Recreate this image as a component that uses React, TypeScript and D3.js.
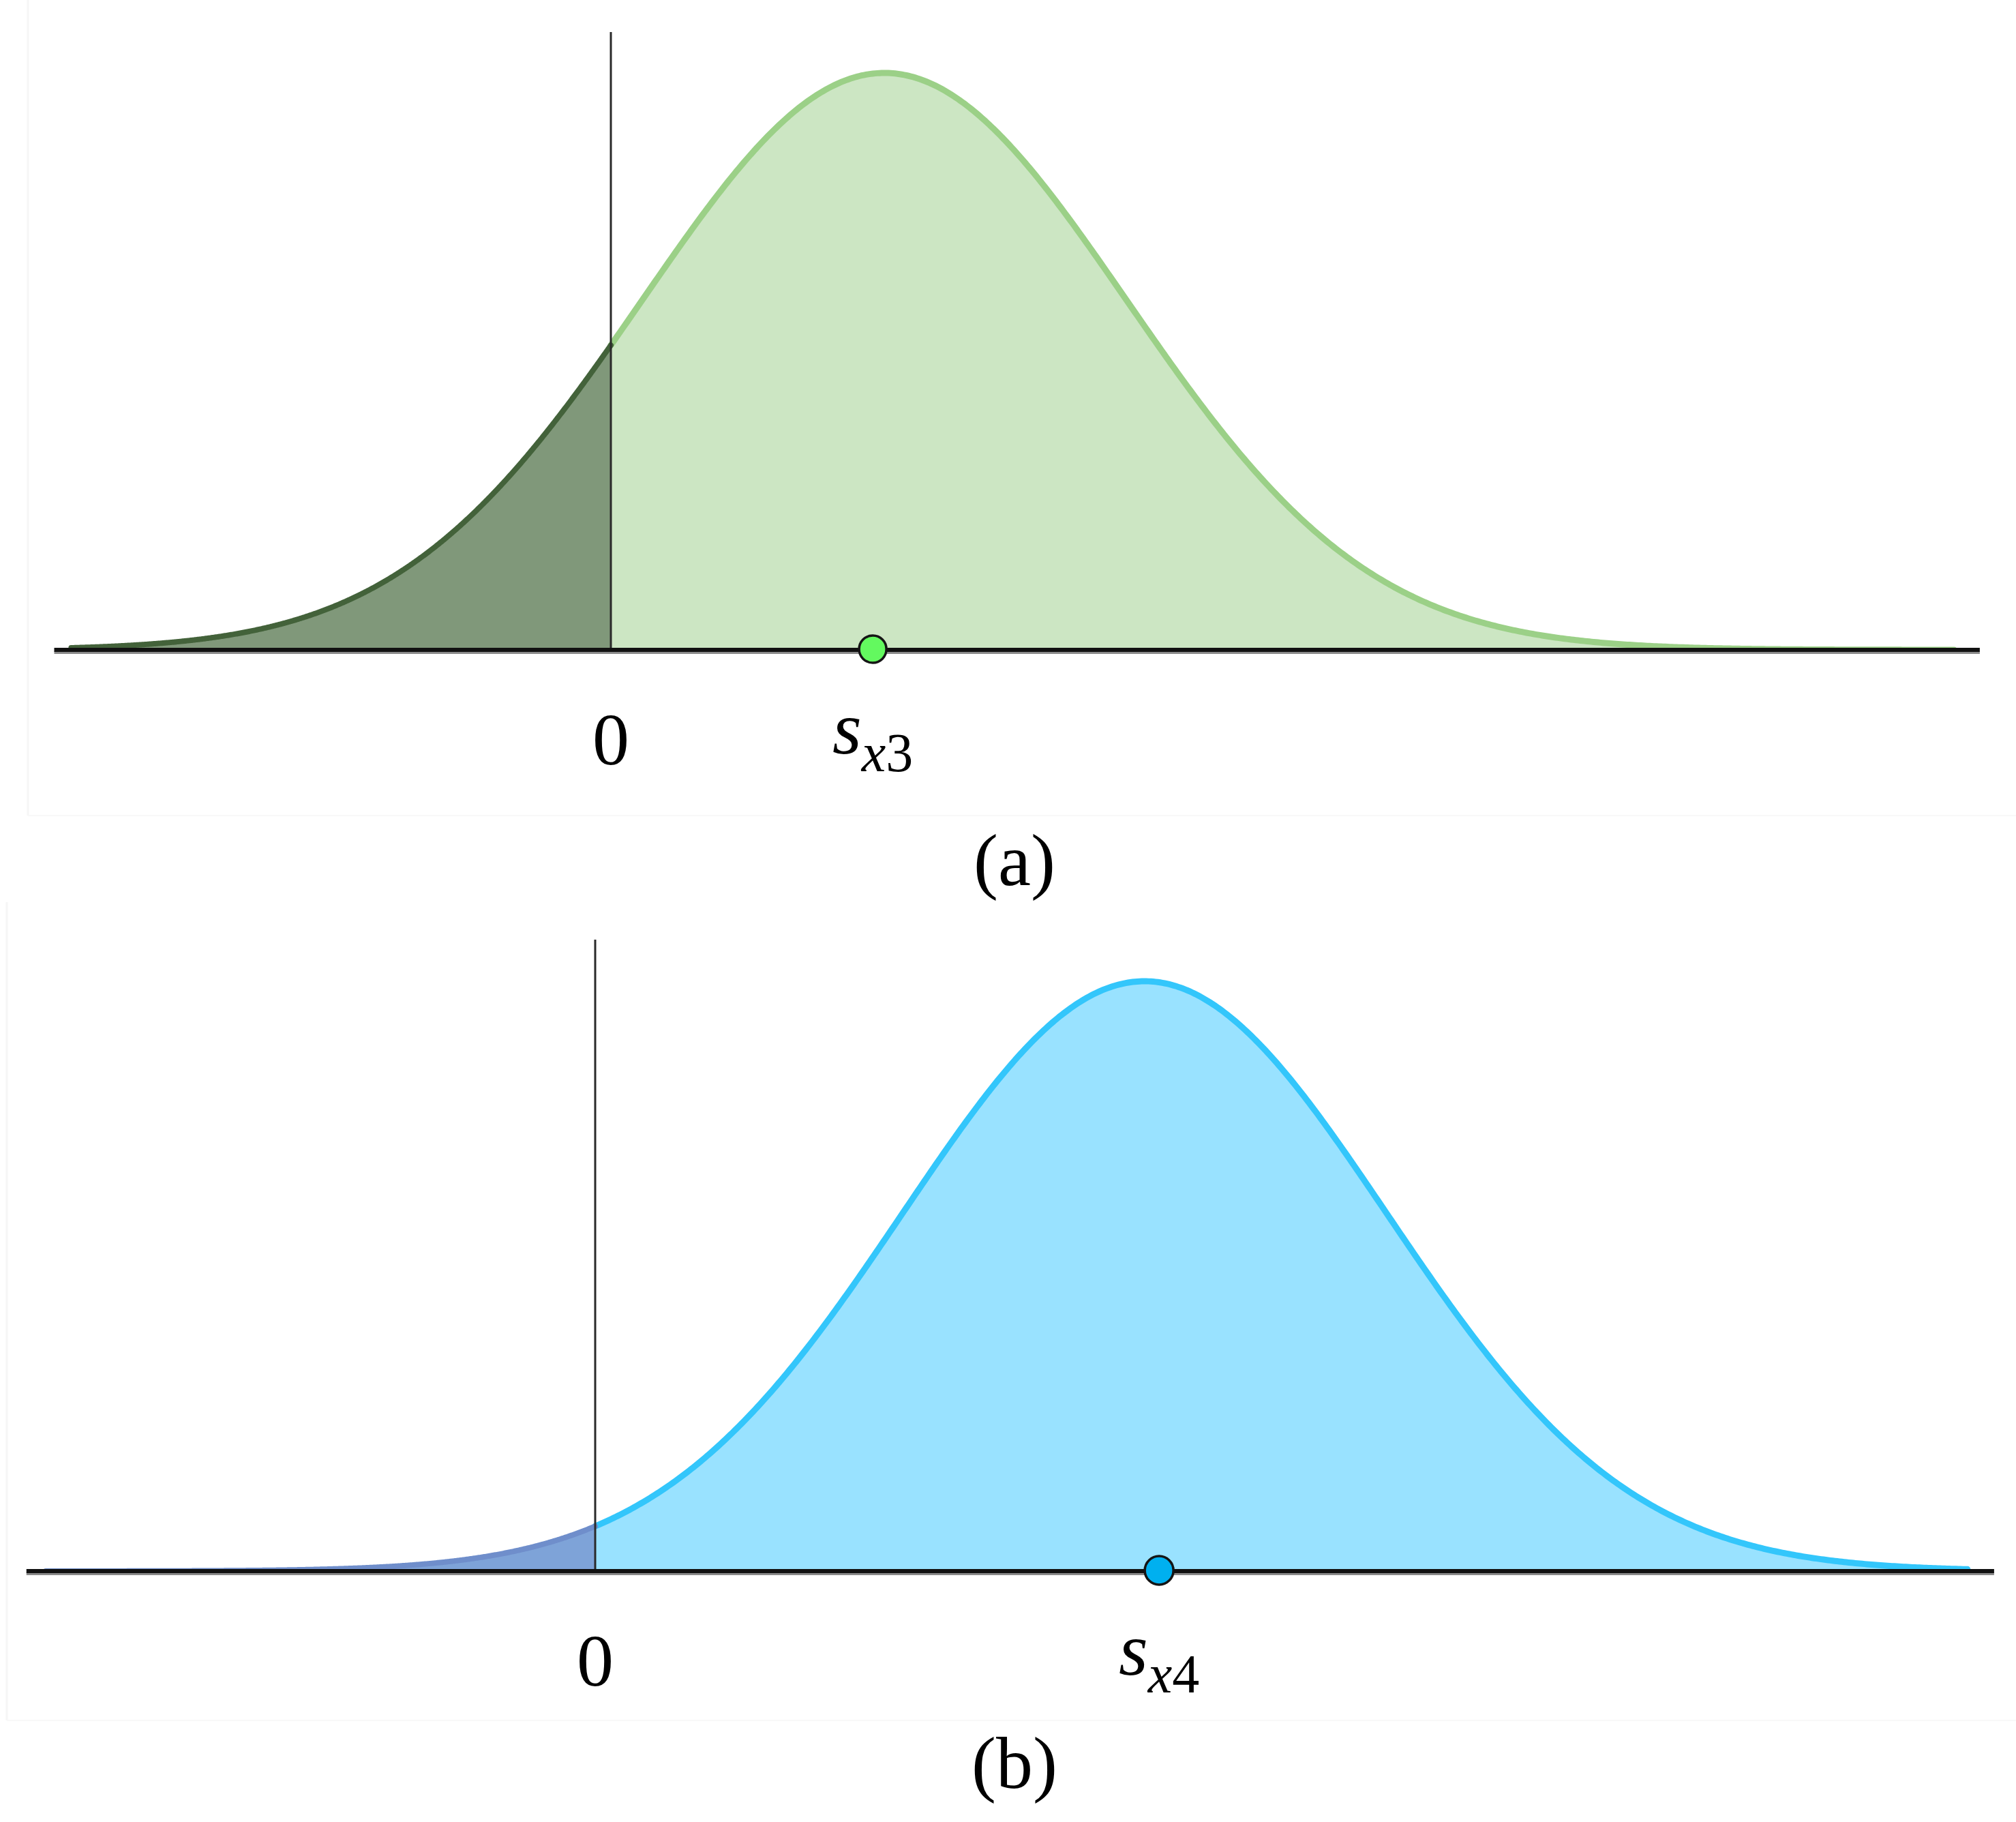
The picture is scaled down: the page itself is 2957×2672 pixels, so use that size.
import React from "react";
import * as d3 from "d3";

// ---- data (units of one standard deviation) ----
const panelIds = ["a", "b"];
const panelCaptions = ["(a)", "(b)"];
const means = [1.13, 2.27];
const sigmas = [1, 1];
const thresholds = [0, 0];
const curveStart = [-2.23, -2.27];
const curveEnd = [5.55, 5.67];
const axisStart = [-2.3, -2.35];
const axisEnd = [5.656, 5.78];
const pointValues = [1.082, 2.33];
const pointSub = ["x3", "x4"];
const zeroLabels = ["0", "0"];

// ---- layout / style (not data) ----
const W = 2957;
const H = 2672;
const layout = [
  { x0: 896, unit: 355, base: 953, peak: 107, vTop: 47, capY: 1298, dotR: 20 },
  { x0: 873, unit: 355, base: 2304, peak: 1439, vTop: 1378, capY: 2622, dotR: 21 },
];
const styles = [
  { fillR: "#cce6c3", strokeR: "#9bd087", fillL: "#80987a", strokeL: "#43623a", dot: "#63f95f" },
  { fillR: "#99e2ff", strokeR: "#33c6fb", fillL: "#7ea3d8", strokeL: "#6f8ecb", dot: "#00b0ef" },
];
const SERIF = '"Liberation Serif", "Times New Roman", Times, serif';

function gauss(x: number, m: number, s: number) {
  const z = (x - m) / s;
  return Math.exp(-0.5 * z * z);
}

function Panel({ i }: { i: number }) {
  const L = layout[i];
  const S = styles[i];
  const xs = d3
    .scaleLinear()
    .domain([0, 1])
    .range([L.x0, L.x0 + L.unit]);
  const ys = d3.scaleLinear().domain([0, 1]).range([L.base, L.peak]);
  const m = means[i];
  const s = sigmas[i];
  const t = thresholds[i];
  const N = 600;
  const left = d3.range(N + 1).map((k) => curveStart[i] + ((t - curveStart[i]) * k) / N);
  const right = d3.range(N + 1).map((k) => t + ((curveEnd[i] - t) * k) / N);
  const area = d3
    .area<number>()
    .x((d) => xs(d))
    .y0(ys(0))
    .y1((d) => ys(gauss(d, m, s)));
  const line = d3
    .line<number>()
    .x((d) => xs(d))
    .y((d) => ys(gauss(d, m, s)));
  const px = xs(pointValues[i]);
  const tx = xs(t);
  return (
    <g>
      <path d={area(right) || ""} fill={S.fillR} />
      <path d={area(left) || ""} fill={S.fillL} />
      <path d={line(right) || ""} fill="none" stroke={S.strokeR} strokeWidth={9} strokeLinecap="round" />
      <path d={line(left) || ""} fill="none" stroke={S.strokeL} strokeWidth={8} strokeLinecap="round" />
      <line x1={tx} x2={tx} y1={L.vTop} y2={L.base} stroke="#2a2a2a" strokeWidth={3} />
      <line x1={xs(axisStart[i])} x2={xs(axisEnd[i])} y1={L.base + 4} y2={L.base + 4} stroke="#8a8a8a" strokeWidth={4} />
      <line x1={xs(axisStart[i])} x2={xs(axisEnd[i])} y1={L.base} y2={L.base} stroke="#111" strokeWidth={6} />
      <circle cx={px} cy={L.base - 1} r={L.dotR} fill={S.dot} stroke="#151515" strokeWidth={3.5} />
      <text
        x={tx}
        y={L.base + 168}
        textAnchor="middle"
        style={{ fontFamily: SERIF }}
        fontSize={108}
        fill="#000"
      >
        {zeroLabels[i]}
      </text>
      <text x={px} y={L.base + 152} textAnchor="middle" style={{ fontFamily: SERIF }} fill="#000">
        <tspan fontSize={110} fontStyle="italic">s</tspan>
        <tspan fontSize={80} dy={26} fontStyle="italic">{pointSub[i][0]}</tspan>
        <tspan fontSize={80}>{pointSub[i].slice(1)}</tspan>
      </text>
      <text
        x={1488}
        y={L.capY}
        textAnchor="middle"
        style={{ fontFamily: SERIF }}
        fontSize={108}
        fill="#000"
      >
        {panelCaptions[i]}
      </text>
    </g>
  );
}

export default function App() {
  return (
    <svg
      width={W}
      height={H}
      viewBox={`0 0 ${W} ${H}`}
      style={{ position: "absolute", left: 0, top: 0, background: "#fff" }}
    >
      <rect x={0} y={0} width={W} height={H} fill="#fff" />
      <line x1={41} x2={41} y1={0} y2={1196} stroke="#f6f6f6" strokeWidth={3} />
      <line x1={41} x2={W} y1={1196} y2={1196} stroke="#f8f8f8" strokeWidth={2} />
      <line x1={10} x2={10} y1={1323} y2={2523} stroke="#f6f6f6" strokeWidth={3} />
      <line x1={10} x2={W} y1={2523} y2={2523} stroke="#f8f8f8" strokeWidth={2} />
      {panelIds.map((id, i) => (
        <Panel key={id} i={i} />
      ))}
    </svg>
  );
}
